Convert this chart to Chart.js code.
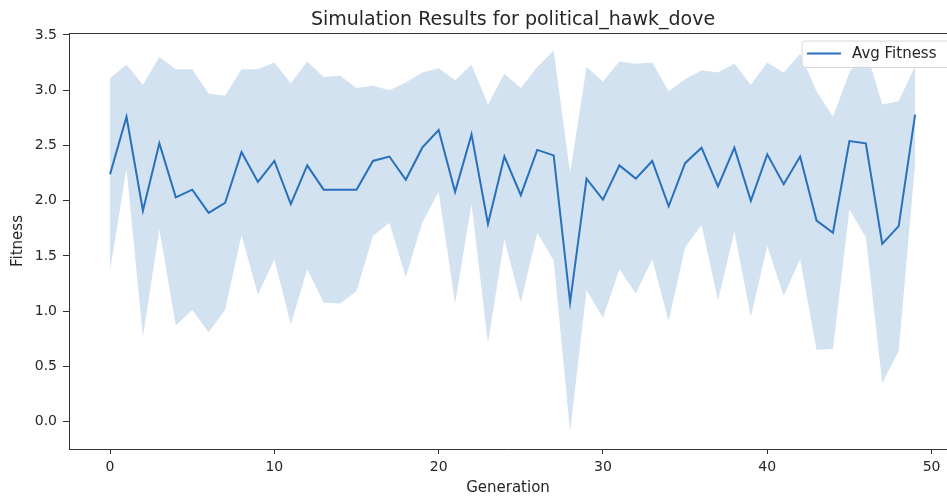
<!DOCTYPE html>
<html>
<head>
<meta charset="utf-8">
<script src="https://cdn.jsdelivr.net/npm/chart.js@4/dist/chart.umd.min.js"></script>
<style>
  html, body { margin: 0; padding: 0; background: #fff; overflow: hidden; }
  #grafica { display: block; }
</style>
</head>
<body>
<canvas id="grafica" width="947" height="496"></canvas>
<script>
  // values
  const title = 'Simulation Results for political_hawk_dove';
  const seriesName = 'Avg Fitness';
  const xLabel = 'Generation';
  const yLabel = 'Fitness';

  const avgFitness = [
    2.24, 2.76, 1.91, 2.52, 2.03, 2.10, 1.89, 1.98, 2.44, 2.17,
    2.36, 1.97, 2.32, 2.10, 2.10, 2.10, 2.36, 2.40, 2.19, 2.48,
    2.64, 2.08, 2.60, 1.79, 2.40, 2.05, 2.46, 2.41, 1.08, 2.20,
    2.01, 2.32, 2.20, 2.36, 1.95, 2.34, 2.48, 2.13, 2.48, 2.00,
    2.42, 2.15, 2.40, 1.82, 1.71, 2.54, 2.52, 1.61, 1.77, 2.78
  ];
  const stdFitness = [
    0.87, 0.47, 1.14, 0.78, 1.16, 1.09, 1.08, 0.97, 0.75, 1.02,
    0.89, 1.09, 0.94, 1.02, 1.03, 0.92, 0.68, 0.60, 0.88, 0.68,
    0.56, 1.01, 0.63, 1.08, 0.75, 0.97, 0.75, 0.95, 1.17, 1.01,
    1.07, 0.94, 1.04, 0.89, 1.04, 0.76, 0.70, 1.03, 0.76, 1.05,
    0.83, 1.01, 0.93, 1.17, 1.05, 0.62, 0.85, 1.26, 1.13, 0.44
  ];
  const xTicks = [0, 10, 20, 30, 40, 50];
  const yTicks = [0, 0.5, 1, 1.5, 2, 2.5, 3, 3.5];

  const lineColor = 'rgb(40,112,188)';
  const bandColor = 'rgba(30,112,182,0.2)';
  const textColor = '#262626';
  const axisColor = '#333';

  const avgPoints = avgFitness.map((v, i) => ({ x: i, y: v }));
  const upperPoints = avgFitness.map((v, i) => ({ x: i, y: v + stdFitness[i] }));
  const lowerPoints = avgFitness.map((v, i) => ({ x: i, y: v - stdFitness[i] }));

  // title, legend box and top spine like the matplotlib figure
  const extras = {
    id: 'extras',
    afterDraw(chart) {
      const ctx = chart.ctx;
      const area = chart.chartArea;
      ctx.save();
      ctx.strokeStyle = axisColor;
      ctx.lineWidth = 1;
      ctx.beginPath();
      ctx.moveTo(area.left, area.top + 0.5);
      ctx.lineTo(area.right, area.top + 0.5);
      ctx.stroke();

      ctx.fillStyle = textColor;
      ctx.font = '19px "DejaVu Sans"';
      ctx.textAlign = 'center';
      ctx.textBaseline = 'alphabetic';
      ctx.fillText(title, 513, 25);

      // legend
      ctx.beginPath();
      ctx.roundRect(802, 41, 160, 26.5, 3);
      ctx.fillStyle = 'rgba(255,255,255,0.8)';
      ctx.fill();
      ctx.strokeStyle = '#d6d6d6';
      ctx.stroke();
      ctx.strokeStyle = lineColor;
      ctx.lineWidth = 2;
      ctx.beginPath();
      ctx.moveTo(807, 53.5);
      ctx.lineTo(841, 53.5);
      ctx.stroke();
      ctx.fillStyle = textColor;
      ctx.font = '15px "DejaVu Sans"';
      ctx.textAlign = 'left';
      ctx.textBaseline = 'middle';
      ctx.fillText(seriesName, 852, 54);
      ctx.restore();
    }
  };

  const tickFont = { family: 'DejaVu Sans', size: 14 };

  const myChart = new Chart(document.getElementById('grafica'), {
    type: 'line',
    data: {
      datasets: [
        {
          label: seriesName,
          data: avgPoints,
          borderColor: lineColor,
          borderWidth: 2,
          pointRadius: 0,
          tension: 0,
          fill: false,
        },
        {
          label: 'upper',
          data: upperPoints,
          borderWidth: 0,
          borderColor: 'rgba(0,0,0,0)',
          backgroundColor: bandColor,
          pointRadius: 0,
          tension: 0,
          fill: '+1',
        },
        {
          label: 'lower',
          data: lowerPoints,
          borderWidth: 0,
          borderColor: 'rgba(0,0,0,0)',
          pointRadius: 0,
          tension: 0,
          fill: false,
        },
      ],
    },
    options: {
      responsive: false,
      animation: false,
      devicePixelRatio: 1,
      layout: { padding: { top: 33, left: 0, right: 0, bottom: 0 } },
      plugins: {
        legend: { display: false },
        title: { display: false },
        tooltip: { enabled: false },
      },
      scales: {
        x: {
          type: 'linear',
          min: -2.5,
          max: 50.94,
          afterFit: (s) => { s.height = 47; },
          afterBuildTicks: (s) => { s.ticks = xTicks.map(v => ({ value: v })); },
          grid: { drawOnChartArea: false, tickLength: 5, tickColor: axisColor },
          border: { display: true, color: axisColor, width: 1 },
          ticks: { color: textColor, font: tickFont, padding: 5, maxRotation: 0 },
          title: {
            display: true, text: xLabel, color: textColor,
            font: { family: 'DejaVu Sans', size: 15, lineHeight: 1 },
            padding: { top: 0, bottom: 0 },
          },
        },
        y: {
          type: 'linear',
          min: -0.247,
          max: 3.518,
          afterFit: (s) => { s.width = 69; },
          afterBuildTicks: (s) => { s.ticks = yTicks.map(v => ({ value: v })); },
          grid: { drawOnChartArea: false, tickLength: 6, tickColor: axisColor },
          border: { display: true, color: axisColor, width: 1 },
          ticks: {
            color: textColor, font: tickFont, padding: 6,
            callback: (v) => v.toFixed(1),
          },
          title: {
            display: true, text: yLabel, color: textColor,
            font: { family: 'DejaVu Sans', size: 15, lineHeight: 1 },
            padding: { top: 11, bottom: 0 },
          },
        },
      },
    },
    plugins: [extras],
  });
</script>
</body>
</html>
